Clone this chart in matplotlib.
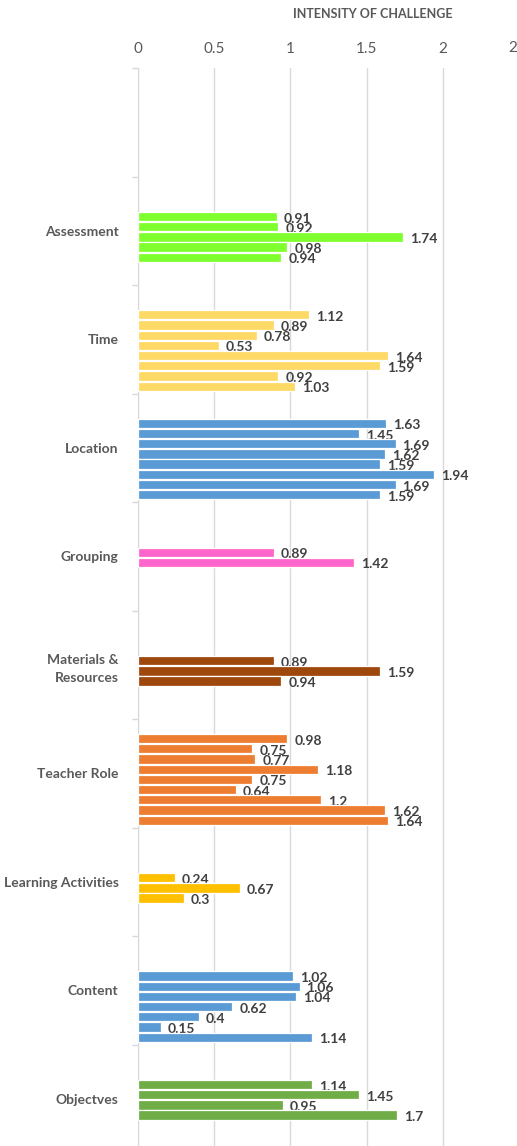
import matplotlib
matplotlib.use('Agg')
import matplotlib.pyplot as plt
import numpy as np

plt.rcParams['font.family'] = ['Lato', 'DejaVu Sans']

# categories, top to bottom (first slot of the chart is empty)
categories = ['', 'Assessment', 'Time', 'Location', 'Grouping', 'Materials &\nResources',
              'Teacher Role', 'Learning Activities', 'Content', 'Objectves']

# 9 series per category, None = blank cell (order top to bottom)
assessment = [None, None, 0.91, 0.92, 1.74, 0.98, 0.94, None, None]
time_vals = [None, 1.12, 0.89, 0.78, 0.53, 1.64, 1.59, 0.92, 1.03]
location = [None, 1.63, 1.45, 1.69, 1.62, 1.59, 1.94, 1.69, 1.59]
grouping = [None, None, None, 0.89, 1.42, None, None, None, None]
materials = [None, None, None, 0.89, 1.59, 0.94, None, None, None]
teacher_role = [0.98, 0.75, 0.77, 1.18, 0.75, 0.64, 1.2, 1.62, 1.64]
learning = [None, None, None, 0.24, 0.67, 0.3, None, None, None]
content = [None, None, 1.02, 1.06, 1.04, 0.62, 0.4, 0.15, 1.14]
objectives = [None, None, 1.14, 1.45, 0.95, 1.7, None, None, None]

series = [[None] * 9, assessment, time_vals, location, grouping, materials,
          teacher_role, learning, content, objectives]
colors = ['#FFFFFF', '#80FF2E', '#FFD966', '#5B9BD5', '#FF66CC', '#9E480E',
          '#ED7D31', '#FFC000', '#5B9BD5', '#70AD47']

xticks = [0, 0.5, 1, 1.5, 2]

W, H = 517, 1146
fig = plt.figure(figsize=(W / 100, H / 100), dpi=100)
# axis runs a little past the right and bottom edges of the picture
ax_l, ax_r, ax_t = 138, 519, 68
slot_px = 108.5
ax_h = slot_px * len(categories)
ax = fig.add_axes([ax_l / W, 1 - (ax_t + ax_h) / H, (ax_r - ax_l) / W, ax_h / H])

pitch = 10.2 / slot_px
lead = 14.5 / slot_px

for i, (vals, c) in enumerate(zip(series, colors)):
    for k, v in enumerate(vals):
        if v is None:
            continue
        y = i + lead + pitch * (k + 0.5)
        ax.barh(y, v, height=pitch * 0.92, color=c, edgecolor='white', linewidth=0.9, zorder=3)
        ax.annotate(f'{v:g}', (v, y), xytext=(5, -1.5), textcoords='offset points',
                    va='center', ha='left', fontsize=10, fontweight='bold', color='#404040')

ax.set_xlim(0, 2.5)
ax.set_ylim(len(categories), 0)
ax.set_xticks(xticks + [2.5])
ax.set_xticklabels([f'{t:g}' for t in xticks] + [''])
ax.xaxis.tick_top()
ax.tick_params(axis='x', length=0, pad=9, labelsize=11, labelcolor='#595959')
ax.grid(axis='x', color='#D9D9D9', linewidth=1, zorder=0)

ax.set_yticks(np.arange(len(categories)) + 0.5)
ax.set_yticklabels(categories, fontsize=10, fontweight='bold', color='#595959',
                   linespacing=1.6)
ax.set_yticks(np.arange(len(categories) + 1), minor=True)
ax.tick_params(axis='y', which='major', length=0, pad=14)
ax.tick_params(axis='y', which='minor', length=4, color='#D9D9D9', width=1)

for s in ['top', 'right', 'bottom']:
    ax.spines[s].set_visible(False)
ax.spines['left'].set_color('#D9D9D9')

# last tick label sits right at the cropped edge
fig.text(513 / W, 1 - 48 / H, '2', ha='center', va='center', fontsize=11, color='#595959')

fig.text(373 / W, 1 - 14 / H, 'INTENSITY OF CHALLENGE', ha='center', va='center',
         fontsize=9, fontweight='bold', color='#595959')

fig.savefig('out.png', dpi=100)
